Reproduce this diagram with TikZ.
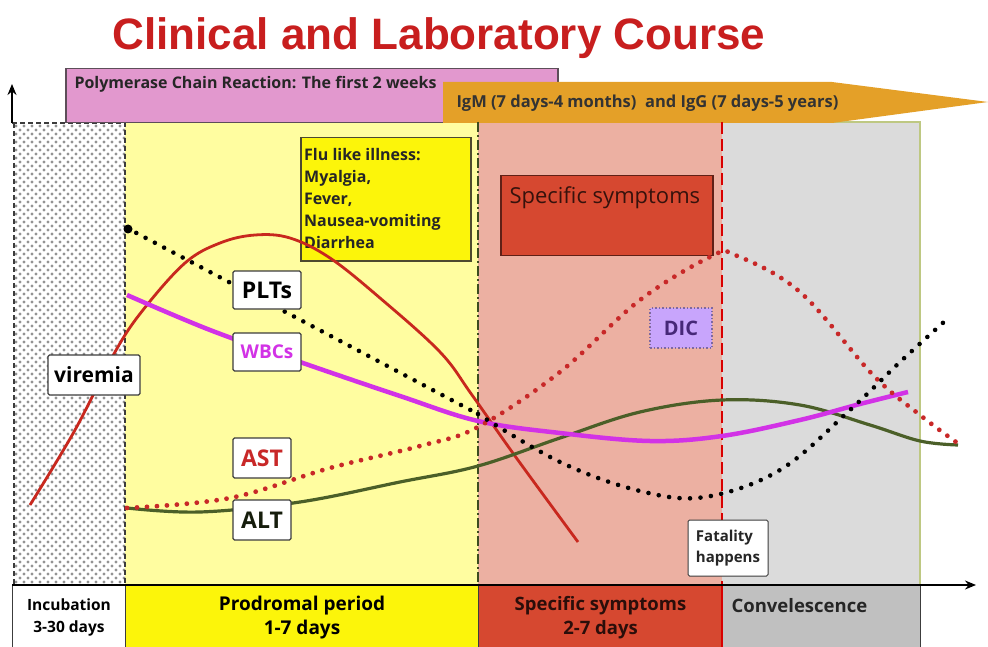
\documentclass[tikz,border=0pt]{standalone}
\usepackage{fontspec}
\setmainfont{Open Sans}
\newfontfamily\titlefont{Liberation Sans}
\usetikzlibrary{arrows.meta}
\definecolor{titlered}{RGB}{200,30,30}
\definecolor{lightyel}{RGB}{255,253,160}
\definecolor{brightyel}{RGB}{252,245,10}
\definecolor{pinkreg}{RGB}{236,176,162}
\definecolor{redbox}{RGB}{214,72,48}
\definecolor{grayreg}{RGB}{219,219,219}
\definecolor{graybot}{RGB}{192,192,192}
\definecolor{pcrpink}{RGB}{226,152,206}
\definecolor{orangebar}{RGB}{228,160,40}
\definecolor{diclav}{RGB}{200,165,252}
\definecolor{dicpurple}{RGB}{70,40,120}
\definecolor{curvered}{RGB}{200,40,30}
\definecolor{astred}{RGB}{200,40,40}
\definecolor{altgreen}{RGB}{75,95,40}
\definecolor{wbcmag}{RGB}{210,50,230}
\definecolor{olivebord}{RGB}{190,200,130}
\definecolor{boxgray}{RGB}{60,60,60}
\tikzset{
  lbl/.style={draw=boxgray, line width=1.2pt, fill=white, rounded corners=1.5pt, font=\bfseries\fontsize{23}{26}\selectfont, inner sep=2pt},
  botbox/.style={draw=boxgray, line width=1pt, anchor=north west, align=center, font=\bfseries\fontsize{19}{24}\selectfont},
  bigdots/.style={line cap=round, dash pattern=on 0pt off 10.5pt, line width=4.6pt},
}
\begin{document}
\begin{tikzpicture}[x=1pt,y=-1pt]
\useasboundingbox (0,0) rectangle (988,647);
\fill[white] (0,0) rectangle (988,647);
% title
\node[font=\titlefont\bfseries\fontsize{44}{48}\selectfont, text=titlered, anchor=base] (title) at (439,50) {Clinical and Laboratory Course};
% regions
\fill[lightyel] (125,122) rectangle (478,585);
\fill[pinkreg] (478,122) rectangle (722,585);
\fill[grayreg] (722,122) rectangle (920,585);
\draw[olivebord, line width=1.2pt] (722,122) -- (920,122) -- (920,585);
% incubation dotted pattern
\foreach \i in {0,...,13} {
  \foreach \j in {0,...,57} {
    \fill[gray!85] (16+\i*8, 126+\j*8) circle (1.6pt);
    \fill[gray!85] (20+\i*8, 130+\j*8) circle (1.6pt);
  }
}
\draw[boxgray, line width=1.5pt, dash pattern=on 5pt off 3pt] (12,123) -- (125,123) -- (125,585);
\draw[boxgray, line width=1.5pt, dash pattern=on 5pt off 3pt] (14,123) -- (14,585);
% PCR box
\node[draw=boxgray!80!pcrpink, line width=1.5pt, fill=pcrpink, anchor=north west, minimum width=492pt, minimum height=54pt, inner sep=0pt] (pcr) at (65,68) {};
\node[anchor=base west, font=\bfseries\fontsize{16}{18}\selectfont, text=black!85] (pcrtext) at (71,89) {Polymerase Chain Reaction: The first 2 weeks};
% orange arrow
\fill[orangebar] (443,82) -- (832,82) -- (988,102) -- (832,123) -- (443,123) -- cycle;
\node[anchor=base west, font=\bfseries\fontsize{16.5}{18}\selectfont, text=black!80] (igtext) at (453,108) {IgM (7 days-4 months)\ \ and IgG (7 days-5 years)};
% vertical dividers
\draw[altgreen!80!black, line width=2pt, dash pattern=on 10pt off 3pt on 2pt off 3pt] (478,122) -- (478,585);
\draw[red!85!black, line width=2.5pt, dash pattern=on 12pt off 5pt] (722,122) -- (722,647);
% flu box
\node[draw=black!60!olive, line width=1.5pt, fill=brightyel, anchor=north west, minimum width=170pt, minimum height=123pt, inner sep=0pt] (flu) at (300,137) {};
\node[anchor=north west, align=left, font=\bfseries\fontsize{16}{22}\selectfont, text=black!85, inner sep=0pt] (flutext) at (304,148) {Flu like illness:\\Myalgia,\\Fever,\\Nausea-vomiting\\Diarrhea};
% specific symptoms box
\node[draw=black!55!redbox, line width=1.5pt, fill=redbox, anchor=north west, minimum width=212pt, minimum height=80pt, inner sep=0pt] (spec) at (500,175) {};
\node[anchor=base west, font=\fontsize{22}{24}\selectfont, text=black!75!redbox] (spectext) at (506,204) {Specific symptoms};
% DIC box
\node[draw=dicpurple!70, line width=1.5pt, dotted, fill=diclav, minimum width=62pt, minimum height=40pt, font=\bfseries\fontsize{20}{22}\selectfont, text=dicpurple] (dic) at (681,328) {DIC};
% curves
\draw[curvered, line width=2.8pt] plot[smooth, tension=0.6] coordinates {(30,505) (75,430) (115,352) (143,310) (185,263) (220,243) (255,235) (290,238) (330,258) (380,298) (440,352) (472,395) (515,456) (578,542)};
\draw[altgreen, line width=3.2pt] plot[smooth, tension=0.6] coordinates {(127,508) (200,512) (300,502) (400,482) (478,466) (560,438) (640,412) (722,400) (800,405) (870,425) (920,441) (958,445)};
\draw[wbcmag, line width=4.5pt] plot[smooth, tension=0.6] coordinates {(127,295) (210,330) (300,362) (400,396) (478,421) (560,433) (650,441) (722,436) (800,420) (860,404) (908,392)};
\draw[astred, bigdots, line width=4.8pt, dash pattern=on 0pt off 10pt] plot[smooth, tension=0.6] coordinates {(127,508) (230,498) (330,468) (420,446) (478,427) (560,372) (640,300) (712,256) (735,255) (800,292) (873,375) (920,415) (956,442)};
\draw[black, bigdots] (127,228) -- (478,414);
\draw[black, bigdots] plot[smooth, tension=0.6] coordinates {(478,414) (560,462) (640,491) (705,497) (780,470) (850,410) (900,362) (945,321)};
\fill[black] (128,229) circle (4.5pt);
% labels
\node[lbl, minimum width=68pt, minimum height=38pt] (plts) at (267,290) {PLTs};
\node[lbl, minimum width=68pt, minimum height=38pt, text=wbcmag, font=\bfseries\fontsize{19}{22}\selectfont] (wbcs) at (267,352) {WBCs};
\node[lbl, minimum width=92pt, minimum height=40pt, font=\bfseries\fontsize{21}{24}\selectfont] (viremia) at (94,375) {viremia};
\node[lbl, minimum width=58pt, minimum height=40pt, text=astred] (ast) at (262,458) {AST};
\node[lbl, minimum width=58pt, minimum height=40pt, text=black!70!altgreen] (alt) at (262,520) {ALT};
\node[lbl, minimum width=80pt, minimum height=56pt, align=left, font=\bfseries\fontsize{15}{21}\selectfont, text=black!85, line width=1pt] (fatal) at (728,548) {Fatality\\happens};
% bottom boxes
\node[botbox, fill=white, minimum width=113pt, minimum height=64pt, inner sep=0pt, font=\bfseries\fontsize{15.5}{22}\selectfont] (incub) at (12,585) {Incubation\\3-30 days};
\node[botbox, fill=brightyel, minimum width=353pt, minimum height=64pt, inner sep=0pt] (prod) at (125,585) {Prodromal period\\1-7 days};
\node[botbox, fill=redbox, minimum width=244pt, minimum height=64pt, inner sep=0pt, text=black!80!redbox, font=\bfseries\fontsize{18.5}{24}\selectfont] (specb) at (478,585) {Specific symptoms\\2-7 days};
\node[botbox, fill=graybot, minimum width=198pt, minimum height=64pt, inner sep=0pt] (conv) at (722,585) {};
\node[anchor=base west, font=\bfseries\fontsize{18.5}{20}\selectfont, text=black!85] (convtext) at (728,612) {Convelescence};
\draw[red!85!black, line width=2.5pt] (722,585) -- (722,647);
% axes
\coordinate (origin) at (12,585);
\coordinate (yend) at (12,84);
\coordinate (xend) at (976,585);
\draw[black, line width=2pt, -{Stealth[length=11pt,width=9pt]}] (origin) -- (xend);
\draw[black, line width=2pt, -{Stealth[length=11pt,width=9pt]}] (12,123) -- (yend);
\end{tikzpicture}
\end{document}
